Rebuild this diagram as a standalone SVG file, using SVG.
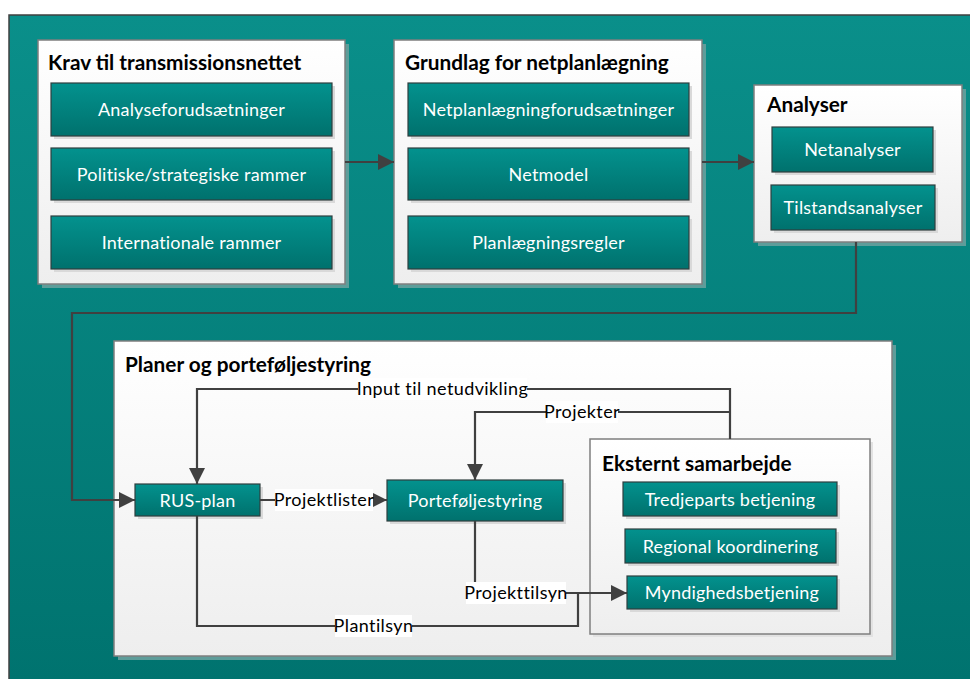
<svg xmlns="http://www.w3.org/2000/svg" width="970" height="679" viewBox="0 0 970 679">
<defs>
<linearGradient id="bg" x1="0" y1="0" x2="0" y2="1"><stop offset="0" stop-color="#0A8F8A"/><stop offset="1" stop-color="#00736F"/></linearGradient>
<linearGradient id="panel" x1="0" y1="0" x2="0" y2="1"><stop offset="0" stop-color="#FFFFFF"/><stop offset="1" stop-color="#EEEEEE"/></linearGradient>
<linearGradient id="tile" x1="0" y1="0" x2="0" y2="1"><stop offset="0" stop-color="#03928E"/><stop offset="1" stop-color="#00716D"/></linearGradient>
<marker id="ah" viewBox="0 0 16 16" refX="16" refY="8" markerWidth="16" markerHeight="16" markerUnits="userSpaceOnUse" orient="auto"><path d="M0,0 L16,8 L0,16 Z" fill="#404040"/></marker>
<style>
.panel{fill:url(#panel);stroke:#7F7F7F;stroke-width:1.5}
.pshadow{fill:#5E9D9A}
.tile{fill:url(#tile);stroke:#2F3F3F;stroke-width:1.2}
.tshadow{fill:#D9D9D9}
.title{font-family:Lato,"Liberation Sans",sans-serif;font-weight:bold;font-size:20.8px;fill:#000}
.lbl{font-family:Lato,"Liberation Sans",sans-serif;font-size:18px;letter-spacing:0.2px;fill:#FFFFFF;text-anchor:middle}
.clbl{font-family:Lato,"Liberation Sans",sans-serif;font-size:18px;letter-spacing:0.4px;fill:#000;text-anchor:middle}
.line{fill:none;stroke:#404040;stroke-width:2.2}
.lblbg{fill:#FFFFFF}
</style>
</defs>
<rect x="9" y="15" width="962" height="665" fill="url(#bg)" stroke="#404040" stroke-width="1.5"/>

<g id="krav">
<rect class="pshadow" x="42" y="44" width="307" height="244"/>
<rect class="panel" x="38" y="40" width="307" height="244"/>
<text class="title" x="48" y="70">Krav til transmissionsnettet</text>
</g>
<g id="analyseforudsaetninger"><rect class="tshadow" x="54" y="86" width="281" height="53"/><rect class="tile" x="51" y="83" width="281" height="53"/><text class="lbl" x="191.5" y="116">Analyseforudsætninger</text></g>
<g id="politiske"><rect class="tshadow" x="54" y="151" width="281" height="52"/><rect class="tile" x="51" y="148" width="281" height="52"/><text class="lbl" x="191.5" y="180.5">Politiske/strategiske rammer</text></g>
<g id="internationale"><rect class="tshadow" x="54" y="219" width="281" height="53"/><rect class="tile" x="51" y="216" width="281" height="53"/><text class="lbl" x="191.5" y="249">Internationale rammer</text></g>

<g id="grundlag">
<rect class="pshadow" x="398" y="44" width="308" height="244"/>
<rect class="panel" x="394" y="40" width="308" height="244"/>
<text class="title" x="405" y="70">Grundlag for netplanlægning</text>
</g>
<g id="netplanforudsaetninger"><rect class="tshadow" x="411" y="86" width="281" height="53"/><rect class="tile" x="408" y="83" width="281" height="53"/><text class="lbl" x="548.5" y="116">Netplanlægningforudsætninger</text></g>
<g id="netmodel"><rect class="tshadow" x="411" y="151" width="281" height="52"/><rect class="tile" x="408" y="148" width="281" height="52"/><text class="lbl" x="548.5" y="180.5">Netmodel</text></g>
<g id="planlaegningsregler"><rect class="tshadow" x="411" y="219" width="281" height="53"/><rect class="tile" x="408" y="216" width="281" height="53"/><text class="lbl" x="548.5" y="249">Planlægningsregler</text></g>

<g id="analyser">
<rect class="pshadow" x="758" y="89" width="208" height="157"/>
<rect class="panel" x="754" y="85" width="208" height="157"/>
<text class="title" x="767" y="112">Analyser</text>
</g>
<g id="netanalyser"><rect class="tshadow" x="775" y="130" width="161" height="45"/><rect class="tile" x="772" y="127" width="161" height="45"/><text class="lbl" x="852.5" y="156">Netanalyser</text></g>
<g id="tilstandsanalyser"><rect class="tshadow" x="774" y="188" width="164" height="45"/><rect class="tile" x="771" y="185" width="164" height="45"/><text class="lbl" x="853" y="214">Tilstandsanalyser</text></g>

<g id="planer">
<rect class="pshadow" x="118" y="345" width="778" height="315"/>
<rect class="panel" x="114" y="341" width="778" height="315"/>
<text class="title" x="125" y="372">Planer og porteføljestyring</text>
</g>

<g id="eksternt">
<rect fill="#E2E2E2" x="593" y="442" width="280" height="195"/>
<rect class="panel" x="590" y="439" width="280" height="195"/>
<text class="title" x="602" y="471">Eksternt samarbejde</text>
</g>
<g id="tredjeparts"><rect class="tshadow" x="626" y="485" width="214" height="34"/><rect class="tile" x="623" y="482" width="214" height="34"/><text class="lbl" x="730" y="505.5">Tredjeparts betjening</text></g>
<g id="regional"><rect class="tshadow" x="628" y="532" width="211" height="34"/><rect class="tile" x="625" y="529" width="211" height="34"/><text class="lbl" x="730.5" y="552.5">Regional koordinering</text></g>
<g id="myndigheds"><rect class="tshadow" x="630" y="579" width="210" height="33"/><rect class="tile" x="627" y="576" width="210" height="33"/><text class="lbl" x="732" y="599">Myndighedsbetjening</text></g>

<g id="rusplan"><rect class="tshadow" x="138" y="487" width="125" height="32"/><rect class="tile" x="135" y="484" width="125" height="32"/><text class="lbl" x="197.5" y="506.5">RUS-plan</text></g>
<g id="portefoelje"><rect class="tshadow" x="390" y="483" width="176" height="41"/><rect class="tile" x="387" y="480" width="176" height="41"/><text class="lbl" x="475" y="507">Porteføljestyring</text></g>

<g id="connectors">
<path class="line" d="M345,162 H394" marker-end="url(#ah)"/>
<path class="line" d="M702,162 H754" marker-end="url(#ah)"/>
<path class="line" d="M856,242 V313 H72 V500 H135" marker-end="url(#ah)"/>
<path class="line" d="M730,439 V389 H197 V484" marker-end="url(#ah)"/>
<path class="line" d="M730,412 H475 V480" marker-end="url(#ah)"/>
<path class="line" d="M260,500 H387" marker-end="url(#ah)"/>
<path class="line" d="M475,521 V593 H627" marker-end="url(#ah)"/>
<path class="line" d="M197,516 V626 H578 V593"/>
<rect class="lblbg" x="358" y="378" width="169" height="22"/>
<text class="clbl" x="442.5" y="395">Input til netudvikling</text>
<rect class="lblbg" x="546" y="401" width="72" height="22"/>
<text class="clbl" x="582" y="418">Projekter</text>
<rect class="lblbg" x="275" y="489" width="98" height="22"/>
<text class="clbl" x="324" y="506">Projektlister</text>
<rect class="lblbg" x="466" y="582" width="100" height="22"/>
<text class="clbl" x="516" y="599">Projekttilsyn</text>
<rect class="lblbg" x="335" y="615" width="77" height="22"/>
<text class="clbl" x="373.5" y="632">Plantilsyn</text>
</g>
</svg>
